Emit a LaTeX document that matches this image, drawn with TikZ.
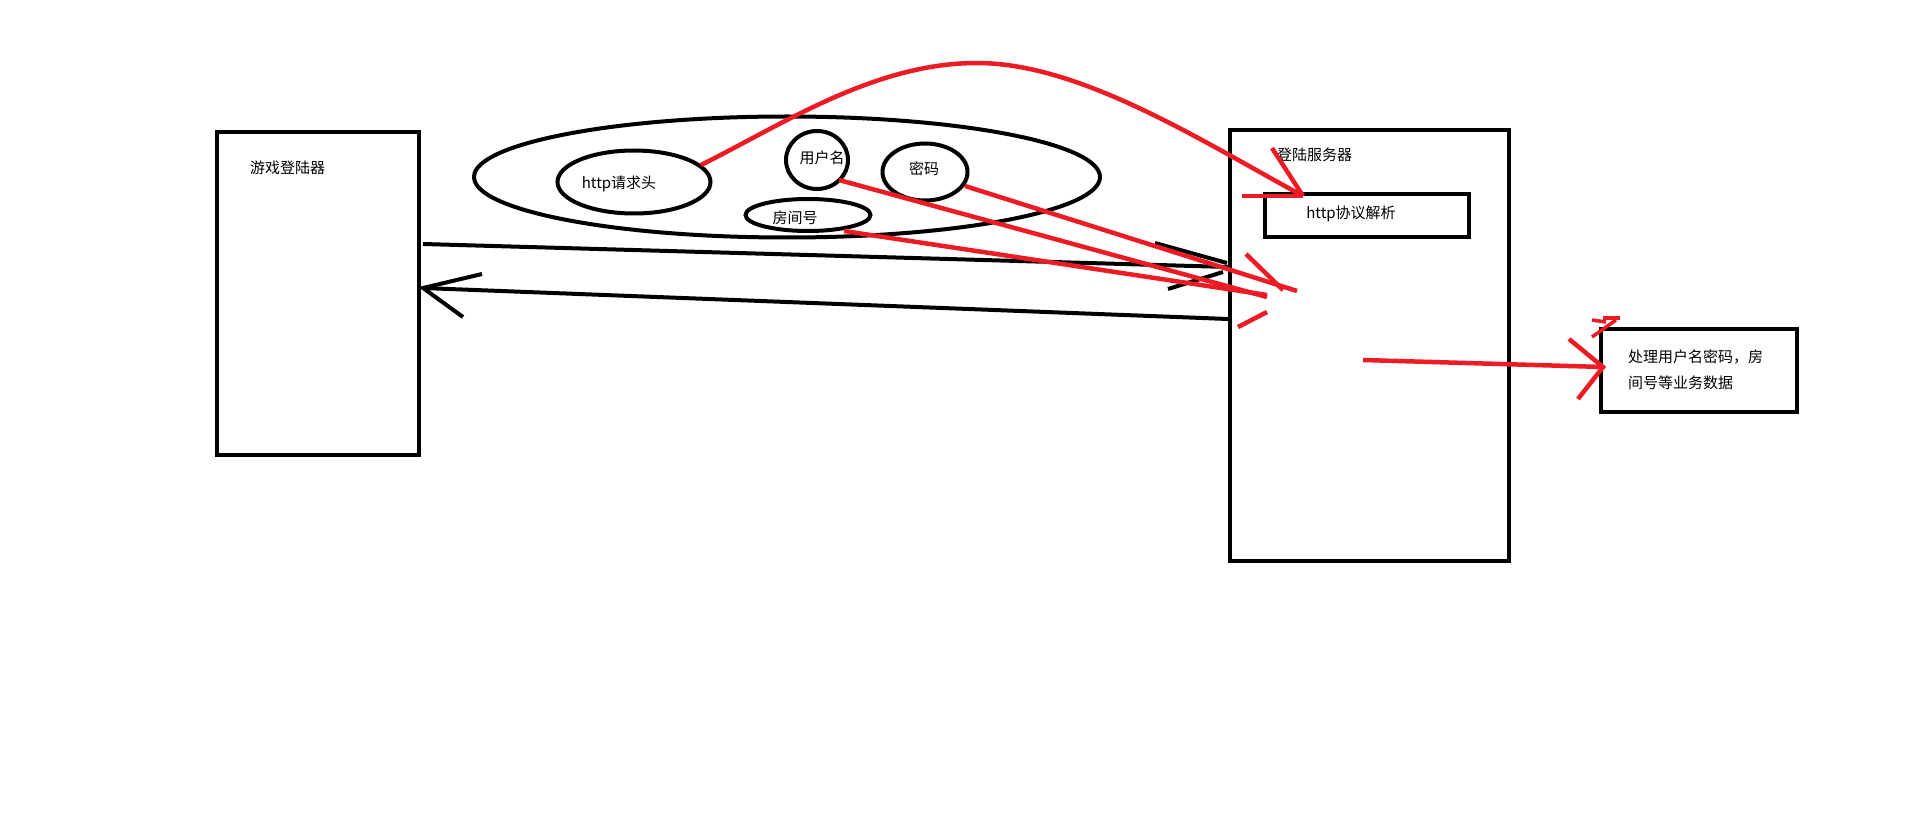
\documentclass[tikz,border=0pt]{standalone}
\usepackage{fontspec}
\setmainfont{Noto Sans CJK SC}
\usetikzlibrary{shapes.geometric}
\definecolor{pred}{RGB}{237,28,36}
\begin{document}
\begin{tikzpicture}[x=1pt,y=-1pt,
  boxnode/.style={draw=black, line width=4pt, inner sep=0pt, outer sep=0pt},
  ell/.style={draw=black, ellipse, line width=4pt, inner sep=0pt, outer sep=0pt},
  lbl/.style={inner sep=0pt, font=\fontsize{15}{26}\selectfont},
  blk/.style={draw=black, line width=4pt},
  rd/.style={draw=pred, line width=4.5pt}]
\fill[white] (0,0) rectangle (1914,834);
\useasboundingbox (0,0) rectangle (1914,834);

% boxes
\node[boxnode, minimum width=202pt, minimum height=323pt] (client) at (318,293.5) {};
\node[boxnode, minimum width=279pt, minimum height=430pt] (server) at (1369,345.5) {};
\node[boxnode, minimum width=204pt, minimum height=42.5pt] (httpbox) at (1367,215.75) {};
\node[boxnode, minimum width=196pt, minimum height=83pt] (biz) at (1699,370.5) {};

% ellipses
\node[ell, minimum width=626pt, minimum height=121pt] (packet) at (787,177) {};
\node[ell, minimum width=153pt, minimum height=63pt] (hdr) at (634,182) {};
\node[ell, minimum width=62pt, minimum height=58pt] (user) at (817,160) {};
\node[ell, minimum width=85pt, minimum height=57pt] (pwd) at (925,172) {};
\node[ell, minimum width=125pt, minimum height=32pt] (room) at (808,215) {};

% labels
\node[lbl, anchor=west] (tclient) at (250,168) {游戏登陆器};
\node[lbl, anchor=west] (tserver) at (1277,155) {登陆服务器};
\node[lbl] (thttp) at (1351,214) {http协议解析};
\node[lbl] (thdr) at (619,184) {http请求头};
\node[lbl] (tuser) at (822,158) {用户名};
\node[lbl] (tpwd) at (924,169) {密码};
\node[lbl] (troom) at (795,218) {房间号};
\node[lbl, anchor=west, align=left] (tbiz) at (1628,370) {处理用户名密码，房\\间号等业务数据};

% coordinates
\coordinate (c1) at (423,244);
\coordinate (s1) at (1228,267);
\coordinate (s2) at (1228,319);
\coordinate (c2) at (423,288);
\coordinate (h0) at (701,165);
\coordinate (hk) at (977,63);
\coordinate (hA) at (1303,196);
\coordinate (u0) at (839,180);
\coordinate (uT) at (1267,297);
\coordinate (p0) at (965,186);
\coordinate (pT) at (1297,291);
\coordinate (r0) at (844,231);
\coordinate (rT) at (1267,295);
\coordinate (b0) at (1363,360);
\coordinate (bT) at (1603,367);

% black connectors
\draw[blk] (c1) -- (s1);
\draw[blk] (1155,243) -- (1227,263);
\draw[blk] (1168,289) -- (1223,272);
\draw[blk] (s2) -- (c2);
\draw[blk] (482,274) -- (c2) -- (463,317);

% red connectors
\draw[rd] (h0) .. controls (785,123) and (875,63) .. (hk) .. controls (1080,63) and (1200,140) .. (hA);
\draw[rd] (1272,148) -- (hA);
\draw[rd] (1242,196) -- (hA);

\draw[rd] (u0) -- (uT);
\draw[rd] (p0) -- (pT);
\draw[rd] (r0) -- (rT);
\draw[rd] (1246,254) -- (1283,290);
\draw[rd] (1238,327) -- (1267,312);

\draw[rd] (b0) -- (bT);
\draw[rd] (1569,339) -- (bT) -- (1578,399);
\draw[draw=pred, line width=3.5pt] (1592,320) -- (1606,322);
\draw[draw=pred, line width=3.5pt] (1603,318) -- (1620,318);
\draw[draw=pred, line width=3.5pt] (1616,320) -- (1592,337);
\end{tikzpicture}
\end{document}
